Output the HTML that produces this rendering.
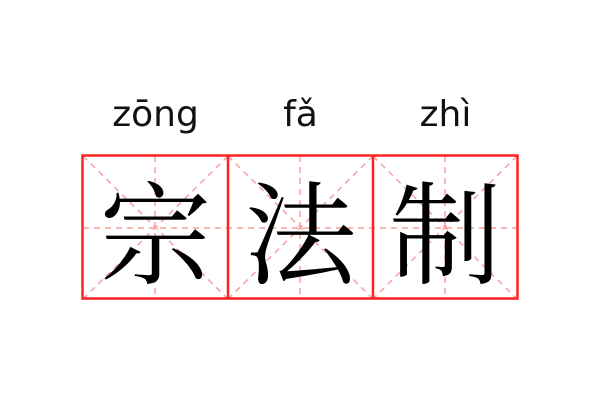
<!DOCTYPE html>
<html><head><meta charset="utf-8"><style>
body{margin:0;width:600px;height:400px;background:#fff;position:relative;overflow:hidden}
.py{position:absolute;top:94px;width:145px;text-align:center;font:36px "DejaVu Sans","Liberation Sans",sans-serif;color:#111}
.ch{position:absolute;top:147px;width:145px;height:145px;text-align:center;line-height:145px;font:112px "Noto Serif CJK SC","Noto Sans CJK SC",serif;color:#000}
</style></head><body>
<svg width="600" height="400" style="position:absolute;left:0;top:0">
<g stroke="#f5a0a0" stroke-width="1.5" stroke-dasharray="6,5" fill="none">
<line x1="83" y1="228" x2="517" y2="228"/>
<line x1="155" y1="156" x2="155" y2="299"/>
<line x1="300" y1="156" x2="300" y2="299"/>
<line x1="445" y1="156" x2="445" y2="299"/>
<line x1="83" y1="156" x2="228" y2="299"/><line x1="228" y1="156" x2="83" y2="299"/>
<line x1="228" y1="156" x2="373" y2="299"/><line x1="373" y1="156" x2="228" y2="299"/>
<line x1="373" y1="156" x2="517" y2="299"/><line x1="517" y1="156" x2="373" y2="299"/>
</g>
<g stroke="#f22" stroke-width="2.5" fill="none">
<rect x="82.5" y="155.5" width="435" height="143"/>
<line x1="228" y1="155" x2="228" y2="299"/>
<line x1="373" y1="155" x2="373" y2="299"/>
</g>
</svg>
<div class="py" style="left:83px">zōng</div>
<div class="py" style="left:228px">fǎ</div>
<div class="py" style="left:373px">zhì</div>
<div class="ch" style="left:83px">宗</div>
<div class="ch" style="left:228px">法</div>
<div class="ch" style="left:373px">制</div>
</body></html>
